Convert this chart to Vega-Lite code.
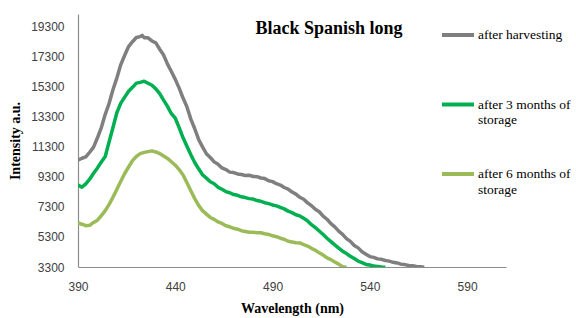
{
  "$schema": "https://vega.github.io/schema/vega-lite/v6.json",
  "width": 428,
  "height": 253,
  "autosize": {"type": "none"},
  "padding": {"left": 78, "top": 14, "right": 70, "bottom": 51},
  "background": "white",
  "title": {
    "text": "Black Spanish long",
    "font": "Liberation Serif",
    "fontSize": 18,
    "fontWeight": "bold",
    "color": "black",
    "anchor": "middle",
    "frame": "group",
    "orient": "top",
    "offset": -24,
    "dx": 37
  },
  "config": {
    "view": {"stroke": null},
    "axis": {"grid": false, "ticks": false, "labelFlush": false, "domainColor": "#8c8c8c", "domainWidth": 1.2, "labelFont": "Liberation Sans", "labelFontSize": 12, "labelColor": "#404040", "titleFont": "Liberation Serif", "titleFontSize": 14, "titleFontWeight": "bold", "titleColor": "black"},
    "legend": {"labelFont": "Liberation Serif", "labelFontSize": 13.5, "labelColor": "black"}
  },
  "data": {"values": [
    {"s":"after harvesting","wl":390,"v":10400},{"s":"after harvesting","wl":392,"v":10520},{"s":"after harvesting","wl":394,"v":10610},{"s":"after harvesting","wl":396,"v":10920},{"s":"after harvesting","wl":398,"v":11260},{"s":"after harvesting","wl":400,"v":11880},{"s":"after harvesting","wl":402,"v":12560},{"s":"after harvesting","wl":404,"v":13440},{"s":"after harvesting","wl":406,"v":14170},{"s":"after harvesting","wl":408,"v":15090},{"s":"after harvesting","wl":410,"v":15860},{"s":"after harvesting","wl":412,"v":16740},{"s":"after harvesting","wl":414,"v":17360},{"s":"after harvesting","wl":416,"v":17940},{"s":"after harvesting","wl":418,"v":18260},{"s":"after harvesting","wl":420,"v":18540},{"s":"after harvesting","wl":422,"v":18600},{"s":"after harvesting","wl":423,"v":18680},{"s":"after harvesting","wl":424,"v":18530},{"s":"after harvesting","wl":426,"v":18520},{"s":"after harvesting","wl":428,"v":18310},{"s":"after harvesting","wl":430,"v":18180},{"s":"after harvesting","wl":432,"v":17760},{"s":"after harvesting","wl":434,"v":17380},{"s":"after harvesting","wl":436,"v":16770},{"s":"after harvesting","wl":438,"v":16280},{"s":"after harvesting","wl":440,"v":15760},{"s":"after harvesting","wl":442,"v":15180},{"s":"after harvesting","wl":444,"v":14520},{"s":"after harvesting","wl":446,"v":13930},{"s":"after harvesting","wl":448,"v":13120},{"s":"after harvesting","wl":450,"v":12480},{"s":"after harvesting","wl":452,"v":11770},{"s":"after harvesting","wl":454,"v":11280},{"s":"after harvesting","wl":456,"v":10820},{"s":"after harvesting","wl":458,"v":10570},{"s":"after harvesting","wl":460,"v":10280},{"s":"after harvesting","wl":462,"v":10120},{"s":"after harvesting","wl":464,"v":9880},{"s":"after harvesting","wl":466,"v":9770},{"s":"after harvesting","wl":468,"v":9600},{"s":"after harvesting","wl":470,"v":9570},{"s":"after harvesting","wl":472,"v":9480},{"s":"after harvesting","wl":474,"v":9440},{"s":"after harvesting","wl":476,"v":9380},{"s":"after harvesting","wl":478,"v":9400},{"s":"after harvesting","wl":480,"v":9310},{"s":"after harvesting","wl":482,"v":9300},{"s":"after harvesting","wl":484,"v":9210},{"s":"after harvesting","wl":486,"v":9170},{"s":"after harvesting","wl":488,"v":9030},{"s":"after harvesting","wl":490,"v":8970},{"s":"after harvesting","wl":492,"v":8830},{"s":"after harvesting","wl":494,"v":8740},{"s":"after harvesting","wl":496,"v":8580},{"s":"after harvesting","wl":498,"v":8470},{"s":"after harvesting","wl":500,"v":8280},{"s":"after harvesting","wl":502,"v":8140},{"s":"after harvesting","wl":504,"v":7930},{"s":"after harvesting","wl":506,"v":7800},{"s":"after harvesting","wl":508,"v":7560},{"s":"after harvesting","wl":510,"v":7370},{"s":"after harvesting","wl":512,"v":7130},{"s":"after harvesting","wl":514,"v":6970},{"s":"after harvesting","wl":516,"v":6680},{"s":"after harvesting","wl":518,"v":6470},{"s":"after harvesting","wl":520,"v":6180},{"s":"after harvesting","wl":522,"v":5970},{"s":"after harvesting","wl":524,"v":5680},{"s":"after harvesting","wl":526,"v":5470},{"s":"after harvesting","wl":528,"v":5180},{"s":"after harvesting","wl":530,"v":5000},{"s":"after harvesting","wl":532,"v":4730},{"s":"after harvesting","wl":534,"v":4570},{"s":"after harvesting","wl":536,"v":4310},{"s":"after harvesting","wl":538,"v":4150},{"s":"after harvesting","wl":540,"v":3990},{"s":"after harvesting","wl":542,"v":3940},{"s":"after harvesting","wl":544,"v":3840},{"s":"after harvesting","wl":546,"v":3810},{"s":"after harvesting","wl":548,"v":3730},{"s":"after harvesting","wl":550,"v":3690},{"s":"after harvesting","wl":552,"v":3610},{"s":"after harvesting","wl":554,"v":3570},{"s":"after harvesting","wl":556,"v":3490},{"s":"after harvesting","wl":558,"v":3460},{"s":"after harvesting","wl":560,"v":3400},{"s":"after harvesting","wl":562,"v":3380},{"s":"after harvesting","wl":564,"v":3330},{"s":"after harvesting","wl":566,"v":3320},{"s":"after harvesting","wl":568,"v":3290},
    {"s":"after 3 months of storage","wl":390,"v":8750},{"s":"after 3 months of storage","wl":392,"v":8600},{"s":"after 3 months of storage","wl":394,"v":8820},{"s":"after 3 months of storage","wl":396,"v":9130},{"s":"after 3 months of storage","wl":398,"v":9520},{"s":"after 3 months of storage","wl":400,"v":9880},{"s":"after 3 months of storage","wl":402,"v":10270},{"s":"after 3 months of storage","wl":404,"v":10640},{"s":"after 3 months of storage","wl":406,"v":11620},{"s":"after 3 months of storage","wl":408,"v":12580},{"s":"after 3 months of storage","wl":410,"v":13560},{"s":"after 3 months of storage","wl":412,"v":14180},{"s":"after 3 months of storage","wl":414,"v":14580},{"s":"after 3 months of storage","wl":416,"v":14970},{"s":"after 3 months of storage","wl":418,"v":15230},{"s":"after 3 months of storage","wl":420,"v":15510},{"s":"after 3 months of storage","wl":422,"v":15560},{"s":"after 3 months of storage","wl":424,"v":15640},{"s":"after 3 months of storage","wl":426,"v":15500},{"s":"after 3 months of storage","wl":428,"v":15370},{"s":"after 3 months of storage","wl":430,"v":15130},{"s":"after 3 months of storage","wl":432,"v":14820},{"s":"after 3 months of storage","wl":434,"v":14380},{"s":"after 3 months of storage","wl":436,"v":13970},{"s":"after 3 months of storage","wl":438,"v":13480},{"s":"after 3 months of storage","wl":440,"v":13180},{"s":"after 3 months of storage","wl":442,"v":12560},{"s":"after 3 months of storage","wl":444,"v":11880},{"s":"after 3 months of storage","wl":446,"v":11320},{"s":"after 3 months of storage","wl":448,"v":10760},{"s":"after 3 months of storage","wl":450,"v":10240},{"s":"after 3 months of storage","wl":452,"v":9820},{"s":"after 3 months of storage","wl":454,"v":9430},{"s":"after 3 months of storage","wl":456,"v":9200},{"s":"after 3 months of storage","wl":458,"v":8960},{"s":"after 3 months of storage","wl":460,"v":8830},{"s":"after 3 months of storage","wl":462,"v":8590},{"s":"after 3 months of storage","wl":464,"v":8460},{"s":"after 3 months of storage","wl":466,"v":8310},{"s":"after 3 months of storage","wl":468,"v":8230},{"s":"after 3 months of storage","wl":470,"v":8110},{"s":"after 3 months of storage","wl":472,"v":8060},{"s":"after 3 months of storage","wl":474,"v":7960},{"s":"after 3 months of storage","wl":476,"v":7910},{"s":"after 3 months of storage","wl":478,"v":7840},{"s":"after 3 months of storage","wl":480,"v":7810},{"s":"after 3 months of storage","wl":482,"v":7710},{"s":"after 3 months of storage","wl":484,"v":7660},{"s":"after 3 months of storage","wl":486,"v":7570},{"s":"after 3 months of storage","wl":488,"v":7510},{"s":"after 3 months of storage","wl":490,"v":7420},{"s":"after 3 months of storage","wl":492,"v":7360},{"s":"after 3 months of storage","wl":494,"v":7260},{"s":"after 3 months of storage","wl":496,"v":7160},{"s":"after 3 months of storage","wl":498,"v":7010},{"s":"after 3 months of storage","wl":500,"v":6910},{"s":"after 3 months of storage","wl":502,"v":6770},{"s":"after 3 months of storage","wl":504,"v":6690},{"s":"after 3 months of storage","wl":506,"v":6540},{"s":"after 3 months of storage","wl":508,"v":6360},{"s":"after 3 months of storage","wl":510,"v":6110},{"s":"after 3 months of storage","wl":512,"v":5910},{"s":"after 3 months of storage","wl":514,"v":5690},{"s":"after 3 months of storage","wl":516,"v":5460},{"s":"after 3 months of storage","wl":518,"v":5210},{"s":"after 3 months of storage","wl":520,"v":4990},{"s":"after 3 months of storage","wl":522,"v":4770},{"s":"after 3 months of storage","wl":524,"v":4560},{"s":"after 3 months of storage","wl":526,"v":4350},{"s":"after 3 months of storage","wl":528,"v":4190},{"s":"after 3 months of storage","wl":530,"v":4010},{"s":"after 3 months of storage","wl":532,"v":3860},{"s":"after 3 months of storage","wl":534,"v":3690},{"s":"after 3 months of storage","wl":536,"v":3590},{"s":"after 3 months of storage","wl":538,"v":3470},{"s":"after 3 months of storage","wl":540,"v":3430},{"s":"after 3 months of storage","wl":542,"v":3360},{"s":"after 3 months of storage","wl":544,"v":3340},{"s":"after 3 months of storage","wl":546,"v":3300},{"s":"after 3 months of storage","wl":548,"v":3290},
    {"s":"after 6 months of storage","wl":390,"v":6220},{"s":"after 6 months of storage","wl":392,"v":6140},{"s":"after 6 months of storage","wl":394,"v":6040},{"s":"after 6 months of storage","wl":396,"v":6070},{"s":"after 6 months of storage","wl":398,"v":6260},{"s":"after 6 months of storage","wl":400,"v":6410},{"s":"after 6 months of storage","wl":402,"v":6710},{"s":"after 6 months of storage","wl":404,"v":7040},{"s":"after 6 months of storage","wl":406,"v":7460},{"s":"after 6 months of storage","wl":408,"v":7940},{"s":"after 6 months of storage","wl":410,"v":8460},{"s":"after 6 months of storage","wl":412,"v":8990},{"s":"after 6 months of storage","wl":414,"v":9510},{"s":"after 6 months of storage","wl":416,"v":9940},{"s":"after 6 months of storage","wl":418,"v":10360},{"s":"after 6 months of storage","wl":420,"v":10640},{"s":"after 6 months of storage","wl":422,"v":10830},{"s":"after 6 months of storage","wl":424,"v":10910},{"s":"after 6 months of storage","wl":426,"v":10960},{"s":"after 6 months of storage","wl":428,"v":11010},{"s":"after 6 months of storage","wl":430,"v":10940},{"s":"after 6 months of storage","wl":432,"v":10830},{"s":"after 6 months of storage","wl":434,"v":10670},{"s":"after 6 months of storage","wl":436,"v":10510},{"s":"after 6 months of storage","wl":438,"v":10290},{"s":"after 6 months of storage","wl":440,"v":10060},{"s":"after 6 months of storage","wl":442,"v":9770},{"s":"after 6 months of storage","wl":444,"v":9410},{"s":"after 6 months of storage","wl":446,"v":8890},{"s":"after 6 months of storage","wl":448,"v":8360},{"s":"after 6 months of storage","wl":450,"v":7840},{"s":"after 6 months of storage","wl":452,"v":7390},{"s":"after 6 months of storage","wl":454,"v":7040},{"s":"after 6 months of storage","wl":456,"v":6810},{"s":"after 6 months of storage","wl":458,"v":6590},{"s":"after 6 months of storage","wl":460,"v":6460},{"s":"after 6 months of storage","wl":462,"v":6290},{"s":"after 6 months of storage","wl":464,"v":6190},{"s":"after 6 months of storage","wl":466,"v":6040},{"s":"after 6 months of storage","wl":468,"v":5970},{"s":"after 6 months of storage","wl":470,"v":5870},{"s":"after 6 months of storage","wl":472,"v":5810},{"s":"after 6 months of storage","wl":474,"v":5710},{"s":"after 6 months of storage","wl":476,"v":5660},{"s":"after 6 months of storage","wl":478,"v":5610},{"s":"after 6 months of storage","wl":480,"v":5610},{"s":"after 6 months of storage","wl":482,"v":5570},{"s":"after 6 months of storage","wl":484,"v":5570},{"s":"after 6 months of storage","wl":486,"v":5510},{"s":"after 6 months of storage","wl":488,"v":5460},{"s":"after 6 months of storage","wl":490,"v":5370},{"s":"after 6 months of storage","wl":492,"v":5310},{"s":"after 6 months of storage","wl":494,"v":5210},{"s":"after 6 months of storage","wl":496,"v":5140},{"s":"after 6 months of storage","wl":498,"v":5010},{"s":"after 6 months of storage","wl":500,"v":4960},{"s":"after 6 months of storage","wl":502,"v":4910},{"s":"after 6 months of storage","wl":504,"v":4900},{"s":"after 6 months of storage","wl":506,"v":4790},{"s":"after 6 months of storage","wl":508,"v":4690},{"s":"after 6 months of storage","wl":510,"v":4540},{"s":"after 6 months of storage","wl":512,"v":4410},{"s":"after 6 months of storage","wl":514,"v":4240},{"s":"after 6 months of storage","wl":516,"v":4090},{"s":"after 6 months of storage","wl":518,"v":3910},{"s":"after 6 months of storage","wl":520,"v":3790},{"s":"after 6 months of storage","wl":522,"v":3630},{"s":"after 6 months of storage","wl":524,"v":3490},{"s":"after 6 months of storage","wl":526,"v":3320},{"s":"after 6 months of storage","wl":528,"v":3280}
  ]},
  "mark": {"type": "line", "strokeWidth": 3.5, "clip": true, "strokeJoin": "round"},
  "encoding": {
    "x": {"field": "wl", "type": "quantitative", "title": "Wavelength  (nm)",
      "scale": {"domain": [390, 610], "nice": false, "zero": false},
      "axis": {"values": [390, 440, 490, 540, 590], "labelPadding": 14, "titlePadding": 9}},
    "y": {"field": "v", "type": "quantitative", "title": "Intensity a.u.",
      "scale": {"domain": [3300, 20100], "nice": false, "zero": false},
      "axis": {"values": [3300, 5300, 7300, 9300, 11300, 13300, 15300, 17300, 19300], "labelPadding": 14, "titlePadding": 8, "format": "d"}},
    "color": {"field": "s", "type": "nominal",
      "scale": {"domain": ["after harvesting", "after 3 months of storage", "after 6 months of storage"], "range": ["#7f7f7f", "#00b050", "#9bbb59"]},
      "legend": {"title": null, "orient": "none", "legendX": 362, "legendY": 3, "padding": 0,
        "symbolType": "stroke", "symbolSize": 1024, "symbolStrokeWidth": 4,
        "labelFont": "Liberation Serif", "labelFontSize": 13.5, "labelColor": "black", "labelOffset": 2, "labelLimit": 200,
        "rowPadding": 29.5,
        "labelExpr": "datum.value == 'after harvesting' ? ['after harvesting', ' '] : [replace(datum.value, ' storage', ''), 'storage']"}}
  }
}
